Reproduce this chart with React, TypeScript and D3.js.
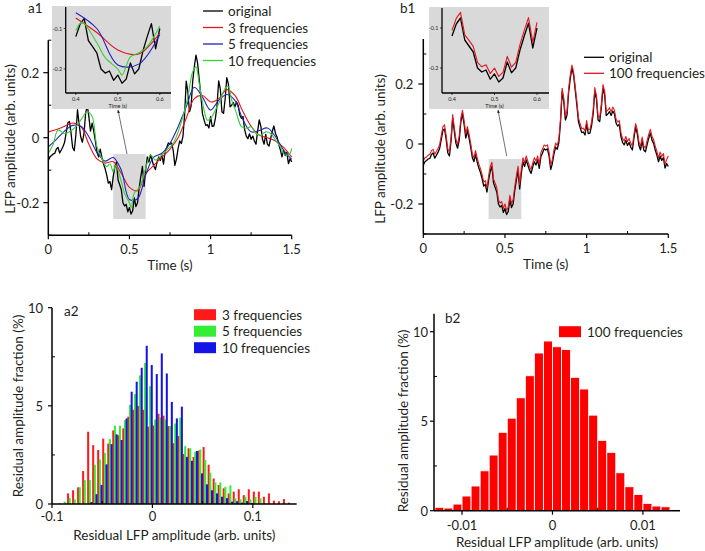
import React from "react";
import * as d3 from "d3";

const FONT = "Lato, 'Open Sans', 'DejaVu Sans', sans-serif";
const TXT = "#231f20";
const RED_LINE = "#e3161d";
const BLUE_LINE = "#2323bb";
const GREEN_LINE = "#35d035";
const GRAY = "#d9d9d9";
const FS_LABEL = 13.5;
const FS_TICK = 13;

// ---- time series (s, arb. units) ----
const sampleTimes = d3.range(151).map((i) => i / 100);
const originalLFP = [
  -0.07, -0.059, -0.055, -0.05, -0.048, -0.035, -0.03, -0.047, -0.038, -0.028,
  -0.015, 0.015, 0.045, 0.05, 0.015, -0.03, -0.04, 0.01, 0.086, 0.041,
  0.002, -0.014, 0.013, 0.074, 0.1, 0.065, 0.02, 0.045, 0.02, -0.01,
  -0.045, -0.059, -0.035, -0.06, -0.08, -0.095, -0.115, -0.14, -0.135, -0.16,
  -0.12, -0.09, -0.075, -0.13, -0.145, -0.16, -0.2, -0.21, -0.205, -0.228,
  -0.215, -0.235, -0.225, -0.185, -0.212, -0.2, -0.155, -0.12, -0.088, -0.15,
  -0.1, -0.059, -0.075, -0.053, -0.07, -0.087, -0.098, -0.076, -0.059, -0.07,
  -0.053, -0.081, -0.042, -0.03, -0.016, -0.02, -0.016, -0.04, -0.085, -0.065,
  -0.033, -0.01, -0.018, 0.005, 0.07, 0.174, 0.141, 0.08, 0.097, 0.174,
  0.219, 0.254, 0.23, 0.18, 0.13, 0.074, 0.055, 0.038, 0.04, 0.03,
  0.065, 0.035, 0.036, 0.06, 0.1, 0.175, 0.15, 0.08, 0.075, 0.12,
  0.185, 0.165, 0.095, 0.1, 0.108, 0.095, 0.11, 0.1, 0.07, 0.06,
  0.065, 0.025, 0.005, -0.003, 0.012, -0.005, 0.005, -0.01, -0.02, 0.02,
  0.055, 0.035, -0.005, -0.02, 0.01, -0.02, -0.026, -0.003, 0.019, 0.036,
  0.013, 0.002, -0.02, -0.037, -0.059, -0.04, -0.055, -0.045, -0.08, -0.065,
  -0.075,
];
const recon100 = [
  -0.056, -0.046, -0.043, -0.037, -0.035, -0.022, -0.018, -0.034, -0.025, -0.015,
  -0.002, 0.028, 0.058, 0.064, 0.028, -0.017, -0.027, 0.023, 0.098, 0.054,
  0.015, -0.001, 0.026, 0.087, 0.112, 0.078, 0.033, 0.058, 0.033, 0.003,
  -0.032, -0.046, -0.022, -0.047, -0.067, -0.082, -0.102, -0.127, -0.122, -0.147,
  -0.106, -0.076, -0.061, -0.117, -0.131, -0.146, -0.186, -0.197, -0.192, -0.214,
  -0.2, -0.221, -0.211, -0.171, -0.198, -0.186, -0.141, -0.106, -0.074, -0.136,
  -0.086, -0.046, -0.062, -0.04, -0.057, -0.074, -0.085, -0.063, -0.046, -0.057,
  -0.04, -0.068, -0.029, -0.017, -0.003, -0.007, -0.003, -0.027, -0.072, -0.052,
  -0.02, 0.003, -0.005, 0.018, 0.083, 0.186, 0.153, 0.093, 0.11, 0.186,
  0.231, 0.263, 0.241, 0.192, 0.143, 0.087, 0.068, 0.051, 0.053, 0.043,
  0.078, 0.048, 0.049, 0.073, 0.113, 0.188, 0.162, 0.093, 0.088, 0.133,
  0.198, 0.177, 0.108, 0.113, 0.121, 0.108, 0.123, 0.113, 0.083, 0.073,
  0.078, 0.038, 0.018, 0.01, 0.025, 0.008, 0.018, 0.003, -0.007, 0.033,
  0.068, 0.048, 0.008, -0.007, 0.023, -0.007, -0.013, 0.01, 0.032, 0.049,
  0.026, 0.015, -0.007, -0.024, -0.046, -0.027, -0.042, -0.032, -0.067, -0.052,
  -0.04,
];
const smoothTimes = [
  0, 0.05, 0.1, 0.15, 0.2, 0.25, 0.3, 0.35, 0.4, 0.45, 0.5, 0.55, 0.6, 0.65, 0.7, 0.75,
  0.8, 0.85, 0.9, 0.95, 1.0, 1.05, 1.1, 1.15, 1.2, 1.25, 1.3, 1.35, 1.4, 1.45, 1.5,
];
const recon3 = [
  0.018, 0.025, 0.035, 0.045, 0.035, -0.02, -0.065, -0.078, -0.074, -0.11, -0.153, -0.163,
  -0.111, -0.085, -0.06, -0.035, 0.0, 0.06, 0.12, 0.13, 0.11, 0.12, 0.148, 0.13, 0.08,
  0.035, 0.008, 0.0, -0.01, -0.03, -0.06,
];
const recon5 = [
  -0.028, -0.005, 0.02, 0.038, 0.035, 0.003, -0.045, -0.072, -0.061, -0.1, -0.19, -0.188,
  -0.115, -0.06, -0.048, -0.017, 0.034, 0.095, 0.155, 0.125, 0.085, 0.115, 0.133, 0.115,
  0.055, 0.018, 0.022, 0.03, 0.003, -0.038, -0.067,
];
const recon10Times = [
  0, 0.03, 0.06, 0.1, 0.13, 0.17, 0.2, 0.24, 0.27, 0.3, 0.33, 0.36, 0.38, 0.4, 0.415,
  0.45, 0.47, 0.5, 0.51, 0.53, 0.55, 0.57, 0.6, 0.63, 0.66, 0.7, 0.73, 0.77, 0.8, 0.83,
  0.86, 0.89, 0.91, 0.93, 0.96, 0.98, 1.0, 1.03, 1.06, 1.09, 1.11, 1.13, 1.16, 1.19,
  1.22, 1.25, 1.28, 1.31, 1.34, 1.37, 1.4, 1.43, 1.46, 1.49, 1.5,
];
const recon10 = [
  -0.048, -0.02, 0.024, 0.013, 0.018, 0.034, 0.054, 0.08, 0.065, -0.028, -0.064, -0.089,
  -0.08, -0.105, -0.085, -0.135, -0.172, -0.2, -0.215, -0.17, -0.16, -0.145, -0.094,
  -0.053, -0.069, -0.053, -0.038, -0.017, 0.018, 0.065, 0.126, 0.203, 0.218, 0.167,
  0.085, 0.054, 0.059, 0.085, 0.116, 0.152, 0.157, 0.116, 0.075, 0.034, 0.029, 0.034,
  0.013, 0.008, 0.018, 0.013, -0.007, -0.028, -0.053, -0.048, -0.033,
];

const timeTicksMajor = [0, 0.5, 1, 1.5];
const timeTicksMinor = [0.25, 0.75, 1.25];
const lfpTicksMajor = [-0.2, 0, 0.2];
const lfpTicksMinor = [-0.3, -0.1, 0.1, 0.3];
const insetTimeTicks = [0.4, 0.5, 0.6];
const insetLfpTicks = [-0.1, -0.2];
const zoomWindow = [0.4, 0.6];

// ---- histograms (% of samples) ----
const binStartsA = d3.range(48).map((k) => -0.1 + k * 0.005);
const binWidthA = 0.005;
const hist3 = [
  0, 0, 0, 0.54, 0.7, 0.85, 1.68, 3.68, 3.0, 2.75,
  3.33, 3.08, 3.75, 3.5, 3.85, 4.45, 4.8, 5.0, 4.8, 3.94,
  4.0, 4.6, 4.5, 3.97, 3.1, 3.46, 2.55, 2.84, 2.4, 2.72,
  2.9, 2.0, 1.3, 0.97, 0.8, 0.54, 0.63, 0.75, 0.45, 0.75,
  0.63, 0.63, 0.37, 0.54, 0.17, 0.14, 0.25, 0.07,
];
const hist5 = [
  0, 0.05, 0.12, 0.3, 0.24, 0.85, 1.22, 1.22, 2.0, 2.27,
  2.6, 3.3, 3.99, 3.99, 4.28, 5.05, 5.6, 6.55, 7.18, 6.0,
  4.3, 4.4, 4.3, 3.97, 4.1, 4.4, 2.95, 2.84, 2.66, 2.78,
  2.24, 1.6, 1.1, 1.1, 0.88, 0.95, 0.29, 0.24, 0.37, 0.24,
  0.37, 0.29, 0.05, 0, 0, 0, 0, 0,
];
const hist10 = [
  0, 0, 0, 0, 0, 0, 0, 0.1, 0.5, 0.97,
  2.02, 3.05, 3.55, 3.26, 4.36, 5.72, 6.23, 6.94, 8.06, 7.08,
  6.62, 7.67, 6.65, 5.2, 4.36, 4.96, 2.4, 2.2, 2.7, 1.56,
  1.0, 0.7, 0.54, 0.37, 0.3, 0.12, 0.14, 0.07, 0.15, 0.05,
  0, 0, 0, 0, 0, 0, 0, 0,
];
const binStartsB = d3.range(27).map((k) => -0.013 + k * 0.001);
const binWidthB = 0.001;
const hist100 = [
  0.19, 0.15, 0.37, 0.82, 1.38, 2.23, 3.11, 4.38, 5.17, 6.31, 7.54, 8.81, 9.48, 9.16,
  9.01, 7.45, 6.8, 5.34, 3.93, 3.26, 2.12, 1.34, 0.91, 0.41, 0.26, 0.22, 0.07,
];
const residTicksA = [-0.1, 0, 0.1];
const residTicksAMinor = [-0.05, 0.05];
const residTicksB = [-0.01, 0, 0.01];
const residTicksBMinor = [-0.005, 0.005];
const fracTicks = [0, 5, 10];
const fracTicksMinor = [2.5, 7.5];

type Series = { t: number[]; v: number[]; color: string; w: number; smooth: boolean };

function TracePanel(props: {
  id: string;
  label: string;
  labelPos: [number, number];
  xRange: [number, number];
  yDomain: [number, number];
  yRange: [number, number];
  series: Series[];
  inset: {
    rect: [number, number, number, number];
    axisX: number;
    axisY: number;
    topY: number;
    x04: number;
    x06: number;
    y01: number;
    y02: number;
  };
  arrow: [number, number, number, number];
  legend: { x: number; y0: number; dy: number; items: { name: string; color: string }[] };
  yLabelPos: [number, number];
  yTickGap: number;
}) {
  const { xRange, yDomain, yRange, series, inset } = props;
  const x = d3.scaleLinear().domain([0, 1.5]).range(xRange);
  const y = d3.scaleLinear().domain(yDomain).range(yRange);
  const axY = yRange[0];
  const axX = xRange[0];
  const mkLine = (sx: any, sy: any, smooth: boolean) =>
    d3
      .line<[number, number]>()
      .x((d) => sx(d[0]))
      .y((d) => sy(d[1]))
      .curve(smooth ? d3.curveCatmullRom.alpha(0.5) : d3.curveLinear);
  const pts = (s: Series) => s.t.map((t, i) => [t, s.v[i]] as [number, number]);
  const winPts = (s: Series) =>
    pts(s).filter((p) => p[0] >= zoomWindow[0] - 1e-9 && p[0] <= zoomWindow[1] + 1e-9);

  const ix = d3.scaleLinear().domain(zoomWindow).range([inset.x04, inset.x06]);
  const iy = d3.scaleLinear().domain([-0.2, -0.1]).range([inset.y02, inset.y01]);
  const [rx0, ry0, rx1, ry1] = inset.rect;
  const clipId = `clip-${props.id}`;
  const [ax0, ay0, ax1, ay1] = props.arrow;

  return (
    <g>
      <text x={props.labelPos[0]} y={props.labelPos[1]} fontSize={FS_LABEL} fill={TXT}>
        {props.label}
      </text>
      {/* zoom box */}
      <rect
        x={x(zoomWindow[0])}
        y={y(-0.05)}
        width={x(zoomWindow[1]) - x(zoomWindow[0])}
        height={y(-0.25) - y(-0.05)}
        fill={GRAY}
      />
      {/* main traces */}
      {series.map((s, i) => (
        <path
          key={i}
          d={mkLine(x, y, s.smooth)(pts(s)) || ""}
          fill="none"
          stroke={s.color}
          strokeWidth={s.w}
          strokeLinejoin="round"
        />
      ))}
      {/* axes */}
      <line x1={axX} x2={axX} y1={y(yDomain[1])} y2={axY} stroke="#000" strokeWidth={1.5} />
      <line x1={axX} x2={xRange[1]} y1={axY} y2={axY} stroke="#000" strokeWidth={1.5} />
      {lfpTicksMajor.map((v) => (
        <g key={`ym${v}`}>
          <line x1={axX - 5} x2={axX} y1={y(v)} y2={y(v)} stroke="#000" strokeWidth={1.2} />
          <text
            x={axX - props.yTickGap}
            y={y(v)}
            fontSize={FS_TICK}
            textAnchor="end"
            dominantBaseline="central"
            fill={TXT}
          >
            {String(v)}
          </text>
        </g>
      ))}
      {lfpTicksMinor
        .filter((v) => v <= yDomain[1])
        .map((v) => (
          <line key={`yn${v}`} x1={axX} x2={axX + 3} y1={y(v)} y2={y(v)} stroke="#000" strokeWidth={1} />
        ))}
      {timeTicksMajor.map((t) => (
        <g key={`xm${t}`}>
          <line x1={x(t)} x2={x(t)} y1={axY} y2={axY + 4} stroke="#000" strokeWidth={1.2} />
          <text x={x(t)} y={axY + 14} fontSize={FS_TICK} textAnchor="middle" dominantBaseline="central" fill={TXT}>
            {String(t)}
          </text>
        </g>
      ))}
      {timeTicksMinor.map((t) => (
        <line key={`xn${t}`} x1={x(t)} x2={x(t)} y1={axY} y2={axY - 3} stroke="#000" strokeWidth={1} />
      ))}
      <text
        x={(xRange[0] + xRange[1]) / 2}
        y={axY + 30}
        fontSize={FS_LABEL}
        textAnchor="middle"
        dominantBaseline="central"
        fill={TXT}
      >
        Time (s)
      </text>
      <text
        transform={`translate(${props.yLabelPos[0]},${props.yLabelPos[1]}) rotate(-90)`}
        fontSize={FS_LABEL}
        textAnchor="middle"
        dominantBaseline="central"
        fill={TXT}
      >
        LFP amplitude (arb. units)
      </text>

      {/* inset */}
      <defs>
        <clipPath id={clipId}>
          <rect x={inset.axisX} y={inset.topY} width={rx1 - inset.axisX} height={inset.axisY - inset.topY} />
        </clipPath>
        <marker
          id={`arrow-${props.id}`}
          viewBox="0 0 10 10"
          refX={9}
          refY={5}
          markerWidth={5}
          markerHeight={5}
          orient="auto"
        >
          <path d="M0,1 L10,5 L0,9 Z" fill="#222" />
        </marker>
      </defs>
      <rect x={rx0} y={ry0} width={rx1 - rx0} height={ry1 - ry0} fill={GRAY} />
      <g clipPath={`url(#${clipId})`}>
        {series.map((s, i) => (
          <path
            key={i}
            d={mkLine(ix, iy, s.smooth)(winPts(s)) || ""}
            fill="none"
            stroke={s.color}
            strokeWidth={s.w}
            strokeLinejoin="round"
          />
        ))}
      </g>
      <line x1={inset.axisX} x2={inset.axisX} y1={inset.topY} y2={inset.axisY} stroke="#000" strokeWidth={1.3} />
      <line x1={inset.axisX} x2={rx1} y1={inset.axisY} y2={inset.axisY} stroke="#000" strokeWidth={1.3} />
      {insetTimeTicks.map((t) => (
        <g key={`it${t}`}>
          <line x1={ix(t)} x2={ix(t)} y1={inset.axisY} y2={inset.axisY + 2} stroke="#000" strokeWidth={0.7} />
          <text x={ix(t)} y={inset.axisY + 6} fontSize={5.5} textAnchor="middle" dominantBaseline="central" fill={TXT}>
            {String(t)}
          </text>
        </g>
      ))}
      {insetLfpTicks.map((v) => (
        <g key={`iv${v}`}>
          <line x1={inset.axisX - 2} x2={inset.axisX} y1={iy(v)} y2={iy(v)} stroke="#000" strokeWidth={0.7} />
          <text
            x={inset.axisX - 3.5}
            y={iy(v)}
            fontSize={5.5}
            textAnchor="end"
            dominantBaseline="central"
            fill={TXT}
          >
            {String(v)}
          </text>
        </g>
      ))}
      <text
        x={(ix(0.4) + ix(0.6)) / 2}
        y={inset.axisY + 13}
        fontSize={5.5}
        textAnchor="middle"
        dominantBaseline="central"
        fill={TXT}
      >
        Time (s)
      </text>
      <line
        x1={ax0}
        y1={ay0}
        x2={ax1}
        y2={ay1}
        stroke="#333"
        strokeWidth={0.7}
        markerEnd={`url(#arrow-${props.id})`}
      />

      {/* legend */}
      {props.legend.items.map((it, i) => {
        const ly = props.legend.y0 + i * props.legend.dy;
        return (
          <g key={it.name}>
            <line x1={props.legend.x} x2={props.legend.x + 20} y1={ly} y2={ly} stroke={it.color} strokeWidth={1.3} />
            <text x={props.legend.x + 25} y={ly} fontSize={FS_LABEL} dominantBaseline="central" fill={TXT}>
              {it.name}
            </text>
          </g>
        );
      })}
    </g>
  );
}

function HistPanel(props: {
  label: string;
  labelPos: [number, number];
  xDomain: [number, number];
  xRange: [number, number];
  yDomain: [number, number];
  yRange: [number, number];
  binStarts: number[];
  binWidth: number;
  groups: { values: number[]; color: string; name: string }[];
  stroke?: string;
  xTicks: number[];
  xTicksMinor: number[];
  xTickOffset: number;
  xLabelOffset: number;
  yTickGap: number;
  yLabelPos: [number, number];
  legend: { x: number; y0: number; dy: number };
}) {
  const x = d3.scaleLinear().domain(props.xDomain).range(props.xRange);
  const y = d3.scaleLinear().domain(props.yDomain).range(props.yRange);
  const axY = props.yRange[0];
  const axX = props.xRange[0];
  const n = props.groups.length;
  const sub = props.binWidth / n;
  return (
    <g>
      {props.groups.map((g, gi) => (
        <g key={g.name}>
          {props.binStarts.map((b, i) => {
            const v = g.values[i];
            if (!v) return null;
            const x0 = x(b + gi * sub);
            const x1 = x(b + (gi + 1) * sub);
            const extra = n > 1 ? 0.35 : 0;
            return (
              <rect
                key={i}
                x={x0}
                y={y(v)}
                width={Math.max(0, x1 - x0 + extra)}
                height={axY - y(v)}
                fill={g.color}
                stroke={props.stroke || "none"}
                strokeWidth={props.stroke ? 0.9 : 0}
              />
            );
          })}
        </g>
      ))}
      <line x1={axX} x2={axX} y1={props.yRange[1]} y2={axY} stroke="#000" strokeWidth={1.5} />
      <line x1={axX} x2={props.xRange[1]} y1={axY} y2={axY} stroke="#000" strokeWidth={1.5} />
      {fracTicks.map((v) => (
        <g key={`fy${v}`}>
          <line x1={axX - 4} x2={axX} y1={y(v)} y2={y(v)} stroke="#000" strokeWidth={1.2} />
          <text
            x={axX - props.yTickGap}
            y={y(v)}
            fontSize={FS_TICK}
            textAnchor="end"
            dominantBaseline="central"
            fill={TXT}
          >
            {String(v)}
          </text>
        </g>
      ))}
      {fracTicksMinor.map((v) => (
        <line key={`fn${v}`} x1={axX} x2={axX + 3} y1={y(v)} y2={y(v)} stroke="#000" strokeWidth={1} />
      ))}
      {props.xTicks.map((t) => (
        <g key={`rx${t}`}>
          <line x1={x(t)} x2={x(t)} y1={axY} y2={axY + 4} stroke="#000" strokeWidth={1.2} />
          <text
            x={x(t)}
            y={axY + props.xTickOffset}
            fontSize={FS_TICK}
            textAnchor="middle"
            dominantBaseline="central"
            fill={TXT}
          >
            {String(t)}
          </text>
        </g>
      ))}
      {props.xTicksMinor.map((t) => (
        <line key={`rn${t}`} x1={x(t)} x2={x(t)} y1={axY} y2={axY - 3} stroke="#000" strokeWidth={1} />
      ))}
      <text
        x={(props.xRange[0] + props.xRange[1]) / 2}
        y={axY + props.xLabelOffset}
        fontSize={FS_LABEL}
        textAnchor="middle"
        dominantBaseline="central"
        fill={TXT}
      >
        Residual LFP amplitude (arb. units)
      </text>
      <text
        transform={`translate(${props.yLabelPos[0]},${props.yLabelPos[1]}) rotate(-90)`}
        fontSize={FS_LABEL}
        textAnchor="middle"
        dominantBaseline="central"
        fill={TXT}
      >
        Residual amplitude fraction (%)
      </text>
      <text x={props.labelPos[0]} y={props.labelPos[1]} fontSize={FS_LABEL} fill={TXT}>
        {props.label}
      </text>
      {props.groups.map((g, i) => {
        const cy = props.legend.y0 + i * props.legend.dy;
        return (
          <g key={`lg${g.name}`}>
            <rect x={props.legend.x} y={cy - 5.5} width={22} height={11} fill={g.color} />
            <text x={props.legend.x + 28} y={cy} fontSize={FS_LABEL} dominantBaseline="central" fill={TXT}>
              {g.name}
            </text>
          </g>
        );
      })}
    </g>
  );
}

export default function App() {
  return (
    <svg
      width={705}
      height={551}
      viewBox="0 0 705 551"
      style={{ position: "absolute", left: 0, top: 0, background: "#fff", fontFamily: FONT }}
    >
      <rect x={0} y={0} width={705} height={551} fill="#fff" />
      <TracePanel
        id="a1"
        label="a1"
        labelPos={[28, 13]}
        xRange={[48.3, 291.7]}
        yDomain={[-0.3, 0.3]}
        yRange={[235.2, 40.2]}
        series={[
          { t: sampleTimes, v: originalLFP, color: "#000", w: 1.3, smooth: false },
          { t: smoothTimes, v: recon3, color: RED_LINE, w: 1.1, smooth: true },
          { t: smoothTimes, v: recon5, color: BLUE_LINE, w: 1.1, smooth: true },
          { t: recon10Times, v: recon10, color: GREEN_LINE, w: 1.1, smooth: true },
        ]}
        inset={{ rect: [52, 6, 171, 109], axisX: 65.7, axisY: 93, topY: 7, x04: 75.8, x06: 159.8, y01: 28.5, y02: 69 }}
        arrow={[127, 154, 118, 110]}
        legend={{
          x: 203,
          y0: 11,
          dy: 16.5,
          items: [
            { name: "original", color: "#000" },
            { name: "3 frequencies", color: RED_LINE },
            { name: "5 frequencies", color: BLUE_LINE },
            { name: "10 frequencies", color: GREEN_LINE },
          ],
        }}
        yLabelPos={[10, 139]}
        yTickGap={9}
      />
      <TracePanel
        id="b1"
        label="b1"
        labelPos={[400, 13]}
        xRange={[423.3, 668.3]}
        yDomain={[-0.3, 0.35]}
        yRange={[234, 39]}
        series={[
          { t: sampleTimes, v: originalLFP, color: "#000", w: 1.3, smooth: false },
          { t: sampleTimes, v: recon100, color: RED_LINE, w: 1.1, smooth: false },
        ]}
        inset={{ rect: [429, 7, 549, 109], axisX: 442, axisY: 93, topY: 8, x04: 452, x06: 537, y01: 28, y02: 68 }}
        arrow={[506.7, 156, 498, 110]}
        legend={{
          x: 584,
          y0: 57.3,
          dy: 16,
          items: [
            { name: "original", color: "#000" },
            { name: "100 frequencies", color: RED_LINE },
          ],
        }}
        yLabelPos={[380, 149]}
        yTickGap={10}
      />
      <HistPanel
        label="a2"
        labelPos={[64, 316]}
        xDomain={[-0.1, 0.1437]}
        xRange={[52, 296.7]}
        yDomain={[0, 10]}
        yRange={[504, 307.7]}
        binStarts={binStartsA}
        binWidth={binWidthA}
        groups={[
          { values: hist3, color: "#ff1a1a", name: "3 frequencies" },
          { values: hist5, color: "#33ee33", name: "5 frequencies" },
          { values: hist10, color: "#1414e6", name: "10 frequencies" },
        ]}
        xTicks={residTicksA}
        xTicksMinor={residTicksAMinor}
        xTickOffset={12}
        xLabelOffset={31}
        yTickGap={9}
        yLabelPos={[18, 406]}
        legend={{ x: 194, y0: 314.7, dy: 16.5 }}
      />
      <HistPanel
        label="b2"
        labelPos={[445, 323]}
        xDomain={[-0.0131, 0.0141]}
        xRange={[434, 680]}
        yDomain={[0, 11]}
        yRange={[510.7, 313.8]}
        binStarts={binStartsB}
        binWidth={binWidthB}
        groups={[{ values: hist100, color: "#ff0000", name: "100 frequencies" }]}
        stroke="#ffffff"
        xTicks={residTicksB}
        xTicksMinor={residTicksBMinor}
        xTickOffset={14}
        xLabelOffset={31}
        yTickGap={6}
        yLabelPos={[402.7, 421]}
        legend={{ x: 559, y0: 331.7, dy: 16.5 }}
      />
    </svg>
  );
}
